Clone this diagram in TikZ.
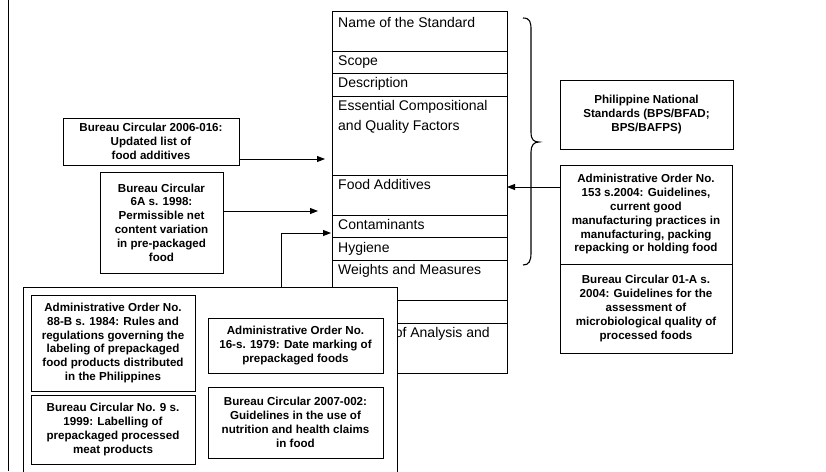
\documentclass[tikz,border=0pt]{standalone}
\usepackage{fontspec}
\setmainfont{Liberation Sans}
\newfontfamily\boxfont{Liberation Sans Bold}
\usetikzlibrary{arrows.meta}
\begin{document}
\begin{tikzpicture}[x=1pt,y=-1pt,
  refbox/.style={draw, line width=0.9pt, align=center, inner sep=0pt,
    font=\boxfont\fontsize{11.6}{13.8}\selectfont},
  rowtext/.style={anchor=base west, inner sep=0pt, font=\fontsize{14}{20}\selectfont},
  rowline/.style={line width=0.9pt},
  arr/.style={line width=0.9pt, -{Triangle[length=8pt,width=6pt]}},
  link/.style={line width=0.9pt}]
\useasboundingbox (0,0) rectangle (826,471);
\clip (0,0) rectangle (826,471);

% left frame edge
\draw[line width=1pt] (8,0) -- (8,471);

% structure of a standard
\node[draw, line width=1.3pt, minimum width=175pt, minimum height=362pt,
      inner sep=0pt, anchor=north west] (std) at (332,11) {};
\foreach \yy in {51,73,96,175,215,237,260,300,323}
  \draw[rowline] (std.west |- 0,\yy) -- (std.east |- 0,\yy);
\node[rowtext] (rname) at (338,27) {Name of the Standard};
\node[rowtext] (rscope) at (338,65) {Scope};
\node[rowtext] (rdesc) at (338,87) {Description};
\node[rowtext, anchor=north west, align=left] (ress) at (338,100.5)
  {Essential Compositional\\and Quality Factors};
\node[rowtext] (rfa) at (338,189) {Food Additives};
\node[rowtext] (rcon) at (338,229) {Contaminants};
\node[rowtext] (rhyg) at (338,252) {Hygiene};
\node[rowtext] (rwm) at (338,274) {Weights and Measures};
\node[rowtext] (rmeth) at (394.6,337) {of Analysis and};

% brace
\draw[line width=1.1pt] (523,18) .. controls (530,18) and (531,22) .. (531,30)
  -- (531,132) .. controls (531,140) and (534,142) .. (539,142)
  .. controls (534,142) and (531,145) .. (531,152)
  -- (531,253) .. controls (531,261) and (529,265) .. (523,265);

% right-hand boxes
\node[refbox, minimum width=173pt, minimum height=69pt] (pns) at (646.5,114.5)
  {Philippine National\\Standards (BPS/BFAD;\\BPS/BAFPS)};
\node[refbox, minimum width=172pt, minimum height=99pt] (ao153) at (646,214.5)
  {Administrative Order No.\\153 s.2004: Guidelines,\\current good\\manufacturing practices in\\manufacturing, packing\\repacking or holding food};
\node[refbox, minimum width=172pt, minimum height=89pt] (bc01a) at (646,308.5)
  {Bureau Circular 01-A s.\\2004: Guidelines for the\\assessment of\\microbiological quality of\\processed foods};

% left-hand boxes
\node[refbox, minimum width=176pt, minimum height=47pt] (bc2006) at (151,141.5)
  {Bureau Circular 2006-016:\\Updated list of\\food additives};
\node[refbox, minimum width=123pt, minimum height=101pt] (bc6a) at (161.5,222.5)
  {Bureau Circular\\6A s. 1998:\\Permissible net\\content variation\\in pre-packaged\\food};

% labelling group
\node[draw, fill=white, line width=0.9pt, minimum width=374pt, minimum height=195pt,
      inner sep=0pt, anchor=north west] (lab) at (23,287) {};
\node[refbox, minimum width=164pt, minimum height=96pt] (ao88b) at (113,343)
  {Administrative Order No.\\88-B s. 1984: Rules and\\regulations governing the\\labeling of prepackaged\\food products distributed\\in the Philippines};
\node[refbox, minimum width=164pt, minimum height=69pt] (bc9) at (113,429.5)
  {Bureau Circular No. 9 s.\\1999: Labelling of\\prepackaged processed\\meat products};
\node[refbox, minimum width=175pt, minimum height=55pt] (ao16) at (295.5,345.5)
  {Administrative Order No.\\16-s. 1979: Date marking of\\prepackaged foods};
\node[refbox, minimum width=175pt, minimum height=71pt] (bc2007) at (295.5,422.5)
  {Bureau Circular 2007-002:\\Guidelines in the use of\\nutrition and health claims\\in food};

% connectors
\coordinate (t2006) at (325,159);
\coordinate (t6a) at (318,211);
\coordinate (tfa) at (507,187);
\coordinate (labtop) at (281,287);
\coordinate (tcon) at (331,233);
\draw[arr] (bc2006.east |- t2006) -- (t2006);
\draw[arr] (bc6a.east |- t6a) -- (t6a);
\draw[arr] (ao153.west |- tfa) -- (tfa);
\draw[arr] (labtop) |- (tcon);
\end{tikzpicture}
\end{document}
